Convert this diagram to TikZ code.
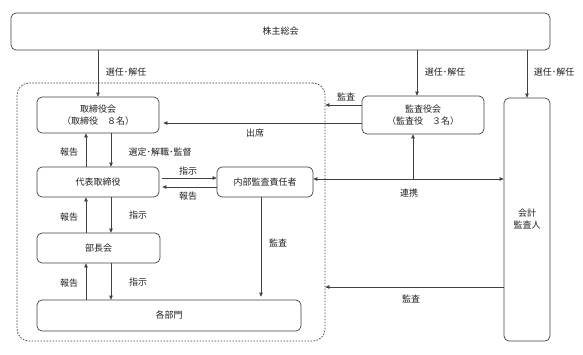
\documentclass[tikz,border=0pt]{standalone}
\usepackage{fontspec}
\setmainfont{Noto Sans CJK JP}
\usetikzlibrary{arrows.meta}
\definecolor{ln}{HTML}{404040}
\definecolor{tx}{HTML}{202020}
\begin{document}
\begin{tikzpicture}[x=1pt,y=-1pt,
  font=\fontsize{9}{12}\selectfont, text=tx,
  box/.style={draw=ln, line width=0.7pt, rounded corners=5pt, inner sep=0pt, align=center},
  grpbox/.style={draw=ln, line width=0.7pt, rounded corners=12pt, dash pattern=on 1.6pt off 1.4pt, inner sep=0pt},
  arr/.style={draw=ln, line width=0.7pt, -{Triangle[length=4pt,width=3.5pt]}},
  darr/.style={draw=ln, line width=0.7pt, {Triangle[length=4pt,width=3.5pt]}-{Triangle[length=4pt,width=3.5pt]}},
  ln/.style={draw=ln, line width=0.7pt},
  lbl/.style={inner sep=0pt}]
\useasboundingbox (0,0) rectangle (583,354);
% frame
\node[grpbox, minimum width=308pt, minimum height=258pt] (grp) at (171,212) {};
% boxes
\node[box, minimum width=539pt, minimum height=37pt] (kabu) at (280.5,31.5) {株主総会};
\node[box, minimum width=122pt, minimum height=36pt] (tori) at (98,115) {取締役会\\（取締役　８名）};
\node[box, minimum width=122pt, minimum height=38pt] (kansa) at (423,115) {監査役会\\（監査役　３名）};
\node[box, minimum width=46pt, minimum height=243pt] (kaikei) at (527,219.5) {会計\\監査人};
\node[box, minimum width=122pt, minimum height=30pt] (daihyo) at (98,182) {代表取締役};
\node[box, minimum width=96pt, minimum height=30pt] (naibu) at (265,182) {内部監査責任者};
\node[box, minimum width=123pt, minimum height=30pt] (bucho) at (98.5,248) {部長会};
\node[box, minimum width=264pt, minimum height=31pt] (kakubu) at (169,315.5) {各部門};
% coordinates
\coordinate (xa) at (86,0);
\coordinate (xb) at (111,0);
\coordinate (xk) at (417,0);
\coordinate (xr) at (413,0);
\coordinate (xn) at (261,0);
\coordinate (y1) at (0,105);
\coordinate (y2) at (0,123);
\coordinate (y3) at (0,178);
\coordinate (y4) at (0,187);
\coordinate (y5) at (0,179);
\coordinate (y6) at (0,287);
% shareholders
\draw[arr] (kabu.south -| tori.north) -- (tori.north);
\draw[arr] (kabu.south -| xk) -- (kansa.north -| xk);
\draw[arr] (kabu.south -| kaikei.north) -- (kaikei.north);
% kansa
\draw[arr] (kansa.west |- y1) -- (grp.east |- y1);
\draw[arr, shorten >=4pt] (kansa.west |- y2) -- (tori.east |- y2);
% board <-> daihyo
\draw[arr] (tori.south -| xb) -- (daihyo.north -| xb);
\draw[arr] (daihyo.north -| xa) -- (tori.south -| xa);
% daihyo <-> naibu
\draw[arr, shorten <=3pt] (daihyo.east |- y3) -- (naibu.west |- y3);
\draw[arr, shorten >=3pt] (naibu.west |- y4) -- (daihyo.east |- y4);
% daihyo <-> bucho
\draw[arr] (daihyo.south -| xb) -- (bucho.north -| xb);
\draw[arr] (bucho.north -| xa) -- (daihyo.south -| xa);
% bucho <-> kakubu
\draw[arr] (bucho.south -| xb) -- (kakubu.north -| xb);
\draw[arr] (kakubu.north -| xa) -- (bucho.south -| xa);
% naibu -> kakubu
\draw[arr, shorten >=3pt] (naibu.south -| xn) -- (kakubu.north -| xn);
% renkei
\draw[darr] (naibu.east |- y5) -- (kaikei.west |- y5);
\draw[arr] (xr |- y5) -- (kansa.south -| xr);
% kaikei -> grp
\draw[arr] (kaikei.west |- y6) -- (grp.east |- y6);
% labels
\node[lbl] (l1) at (126,72) {選任･解任};
\node[lbl] (l2) at (445,72) {選任･解任};
\node[lbl] (l3) at (554,72) {選任･解任};
\node[lbl] (l4) at (346,97) {監査};
\node[lbl] (l5) at (255,133) {出席};
\node[lbl] (l6) at (69,152) {報告};
\node[lbl] (l7) at (160,152) {選定･解職･監督};
\node[lbl] (l8) at (188,171) {指示};
\node[lbl] (l9) at (188,196) {報告};
\node[lbl] (l10) at (409,193) {連携};
\node[lbl] (l11) at (69,217) {報告};
\node[lbl] (l12) at (138,215) {指示};
\node[lbl] (l13) at (278,243) {監査};
\node[lbl] (l14) at (69,283) {報告};
\node[lbl] (l15) at (138,282) {指示};
\node[lbl] (l16) at (411,299) {監査};
\end{tikzpicture}
\end{document}
